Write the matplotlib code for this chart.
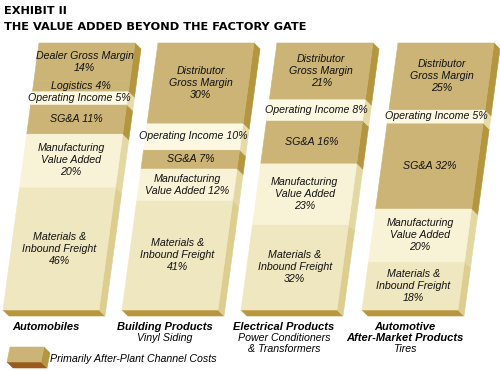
import matplotlib
matplotlib.use("Agg")
import matplotlib.pyplot as plt
from matplotlib.patches import Polygon

plt.rcParams['font.family'] = ['Liberation Sans', 'DejaVu Sans']

# data: segments per industry, bottom to top
categories = ["Automobiles", "Building Products", "Electrical Products",
              "Automotive\nAfter-Market Products"]
subtitles = ["", "Vinyl Siding", "Power Conditioners\n& Transformers", "Tires"]

seg_kinds = [
    ["materials", "manufacturing", "sga", "operating", "logistics", "margin"],
    ["materials", "manufacturing", "sga", "operating", "margin"],
    ["materials", "manufacturing", "sga", "operating", "margin"],
    ["materials", "manufacturing", "sga", "operating", "margin"],
]
seg_values = [
    [46, 20, 11, 5, 4, 14],
    [41, 12, 7, 10, 30],
    [32, 23, 16, 8, 21],
    [18, 20, 32, 5, 25],
]
seg_labels = [
    ["Materials &\nInbound Freight\n46%", "Manufacturing\nValue Added\n20%",
     "SG&A 11%", "Operating Income 5%", "Logistics 4%", "Dealer Gross Margin\n14%"],
    ["Materials &\nInbound Freight\n41%", "Manufacturing\nValue Added 12%",
     "SG&A 7%", "Operating Income 10%", "Distributor\nGross Margin\n30%"],
    ["Materials &\nInbound Freight\n32%", "Manufacturing\nValue Added\n23%",
     "SG&A 16%", "Operating Income 8%", "Distributor\nGross Margin\n21%"],
    ["Materials &\nInbound Freight\n18%", "Manufacturing\nValue Added\n20%",
     "SG&A 32%", "Operating Income 5%", "Distributor\nGross Margin\n25%"],
]

# colours: (front, side)
colors = {
    "materials": ("#efe7c0", "#ddce90"),
    "manufacturing": ("#f8f2d6", "#e3d7a2"),
    "sga": ("#cbb475", "#b4963f"),
    "operating": ("#fcf8e2", "#e6dba8"),
    "logistics": ("#cbb475", "#b4963f"),
    "margin": ("#cbb475", "#b4963f"),
}
bottom_color = "#b8963e"

# layout (pixel space, y down)
bar_left = [3, 122, 241, 362]
bar_w = 96
lean = 36
base = 310
height = 267
dx, dy = 6, 6

fig = plt.figure(figsize=(5, 3.71), dpi=100)
ax = fig.add_axes([0, 0, 1, 1])
ax.set_xlim(0, 500)
ax.set_ylim(371, 0)
ax.axis('off')


def xl(i, y):
    return bar_left[i] + lean * (base - y) / height


def face(pts, c):
    ax.add_patch(Polygon(pts, closed=True, fc=c, ec=c, lw=0.4))


for i in range(len(categories)):
    # bottom face
    x0 = xl(i, base)
    face([(x0, base), (x0 + bar_w, base), (x0 + bar_w + dx, base + dy),
          (x0 + dx, base + dy)], bottom_color)
    cum = 0
    for kind, v, lab in zip(seg_kinds[i], seg_values[i], seg_labels[i]):
        y0 = base - cum * height / 100
        y1 = base - (cum + v) * height / 100
        front, side = colors[kind]
        r0 = xl(i, y0) + bar_w
        r1 = xl(i, y1) + bar_w
        face([(r0, y0), (r1, y1), (r1 + dx, y1 + dy), (r0 + dx, y0 + dy)], side)
        face([(xl(i, y0), y0), (r0, y0), (r1, y1), (xl(i, y1), y1)], front)
        ym = (y0 + y1) / 2
        ax.text(xl(i, ym) + bar_w / 2, ym, lab, ha='center', va='center',
                fontsize=7.7, style='italic', linespacing=1.25, color='#111111')
        cum += v

    # category labels
    cx = bar_left[i] + 43
    ax.text(cx, 322, categories[i], ha='center', va='top', fontsize=8,
            fontweight='bold', style='italic', linespacing=1.1)
    nlines = categories[i].count("\n") + 1
    if subtitles[i]:
        ax.text(cx, 322 + 11 * nlines, subtitles[i], ha='center', va='top',
                fontsize=7.7, style='italic', linespacing=1.15)

# legend box
lx, ly, lw, lh, ll = 7, 362, 34, 15, 3
face([(lx, ly), (lx + lw, ly), (lx + lw + dx, ly + dy), (lx + dx, ly + dy)], "#9a5a1c")
face([(lx + lw, ly), (lx + lw + ll, ly - lh), (lx + lw + ll + dx, ly - lh + dy),
      (lx + lw + dx, ly + dy)], "#b4963f")
face([(lx, ly), (lx + lw, ly), (lx + lw + ll, ly - lh), (lx + ll, ly - lh)], "#cbb475")
ax.text(50, 359, "Primarily After-Plant Channel Costs", ha='left', va='center',
        fontsize=7.7, style='italic')

# title
ax.text(4, 11, "EXHIBIT II", ha='left', va='center', fontsize=8.2,
        fontweight='bold', family='DejaVu Sans')
ax.text(4, 27, "THE VALUE ADDED BEYOND THE FACTORY GATE", ha='left', va='center',
        fontsize=8.2, fontweight='bold', family='DejaVu Sans')

fig.savefig("out.png", dpi=100)
